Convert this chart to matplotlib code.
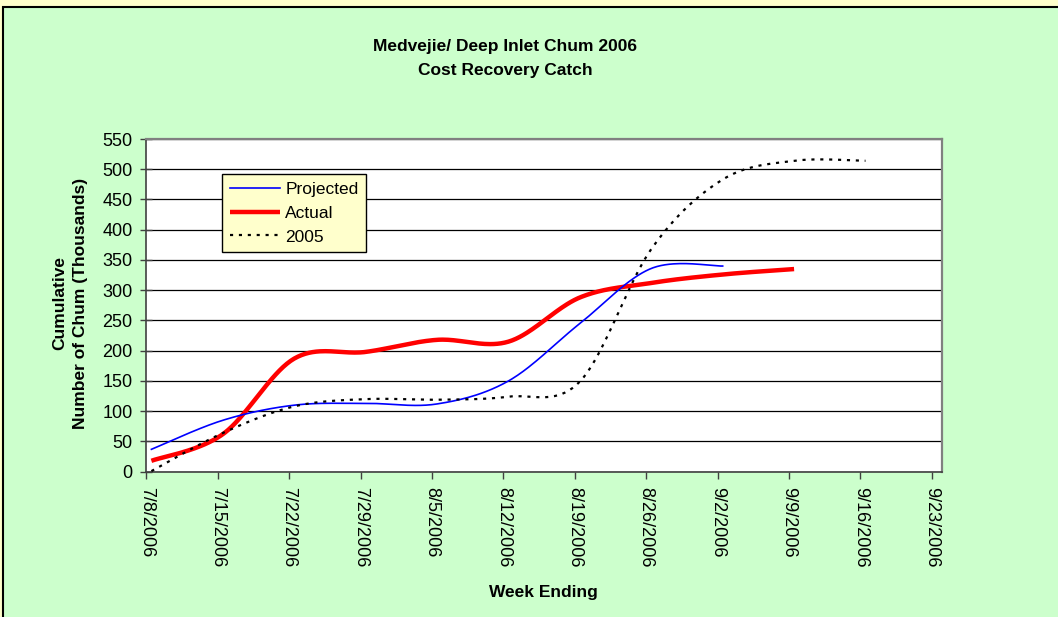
import numpy as np
import matplotlib
matplotlib.use('Agg')
import matplotlib.pyplot as plt
import matplotlib.dates as mdates
from matplotlib.patches import Rectangle
from datetime import datetime

plt.rcParams['font.family'] = ['Liberation Sans', 'DejaVu Sans']

# ── Data (thousands of chum, week ending) ─────────────────
week_labels = ['7/8/2006', '7/15/2006', '7/22/2006', '7/29/2006', '8/5/2006', '8/12/2006',
               '8/19/2006', '8/26/2006', '9/2/2006', '9/9/2006', '9/16/2006', '9/23/2006']
projected = [37, 85, 110, 113, 112, 150, 245, 336, 340]
actual    = [18, 62, 187, 198, 218, 215, 288, 312, 326, 335]
prev_2005 = [1, 64, 108, 120, 119, 124, 149, 368, 483, 514, 514]

weeks = [datetime.strptime(s, '%m/%d/%Y') for s in week_labels]
week_num = mdates.date2num(weeks)


def smooth(x, y, n=40):
    # Excel-style smoothed line (Catmull-Rom through cubic Bezier)
    pts = np.column_stack([x, y]).astype(float)
    P = np.vstack([pts[0], pts, pts[-1]])
    t = np.linspace(0, 1, n)[:, None]
    out = []
    for i in range(len(pts) - 1):
        p0, p1, p2, p3 = P[i], P[i + 1], P[i + 2], P[i + 3]
        c1 = p1 + (p2 - p0) / 6
        c2 = p2 - (p3 - p1) / 6
        seg = (1 - t) ** 3 * p1 + 3 * (1 - t) ** 2 * t * c1 + 3 * (1 - t) * t ** 2 * c2 + t ** 3 * p2
        out.append(seg if i == 0 else seg[1:])
    s = np.vstack(out)
    return s[:, 0], s[:, 1]


fig = plt.figure(figsize=(10.58, 6.17), dpi=100, facecolor='#FFFFCC')
fig.patches.append(Rectangle((2.5 / 1058, -0.05), 1.2, 1.05 - 7 / 617,
                             transform=fig.transFigure, facecolor='#CCFFCC',
                             edgecolor='black', lw=1.5, zorder=-10))

ax = fig.add_axes([146.3 / 1058, 1 - 471.7 / 617, (942 - 146.3) / 1058, (471.7 - 139) / 617])
ax.set_facecolor('white')

# points sit in the middle of each day (Excel date axis)
xp, yp = smooth(week_num[:len(projected)] + 0.5, projected)
xa, ya = smooth(week_num[:len(actual)] + 0.5, actual)
xo, yo = smooth(week_num[:len(prev_2005)] + 0.5, prev_2005)

ax.plot(xp, yp, color='#0000FF', lw=1.2, label='Projected', zorder=4)
ax.plot(xa, ya, color='#FF0000', lw=3.2, label='Actual', zorder=3, solid_capstyle='butt')
ax.plot(xo, yo, color='black', lw=1.6, ls=(0, (1.4, 2.6)), label='2005', zorder=5)

ax.set_ylim(0, 550)
ax.set_yticks(range(0, 551, 50))
ax.set_xlim(week_num[0], week_num[0] + 78)
ax.set_xticks(week_num)
ax.set_xticklabels(week_labels, rotation=-90, fontsize=13)
ax.tick_params(axis='y', labelsize=13, direction='inout', length=8, width=1, color='#404040', pad=6)
ax.tick_params(axis='x', direction='out', length=5, width=1, color='#404040', pad=6)

ax.yaxis.grid(True, color='black', lw=0.9)
ax.set_axisbelow(True)
for side in ['top', 'right']:
    ax.spines[side].set_color('#808080')
    ax.spines[side].set_linewidth(1.6)
for side in ['left', 'bottom']:
    ax.spines[side].set_color('#404040')
    ax.spines[side].set_linewidth(1.2)

leg = ax.legend(loc='upper left', bbox_to_anchor=(0.095, 0.895), borderaxespad=0,
                fancybox=False, framealpha=1, facecolor='#FFFFCC', edgecolor='black',
                fontsize=12.5, handlelength=2.9, handletextpad=0.3, labelspacing=0.5,
                borderpad=0.45)
leg.get_frame().set_linewidth(1.0)

fig.text(505 / 1058, 1 - 58 / 617, 'Medvejie/ Deep Inlet Chum 2006\nCost Recovery Catch',
         ha='center', va='center', fontsize=12.5, fontweight='bold', linespacing=1.75)
fig.text(70 / 1058, 1 - 303 / 617, 'Cumulative\nNumber of Chum (Thousands)',
         ha='center', va='center', rotation=90, fontsize=12.5, fontweight='bold', linespacing=1.45)
fig.text(543 / 1058, 1 - 592 / 617, 'Week Ending', ha='center', va='center',
         fontsize=12.5, fontweight='bold')

fig.savefig('out.png', dpi=100, facecolor=fig.get_facecolor())
